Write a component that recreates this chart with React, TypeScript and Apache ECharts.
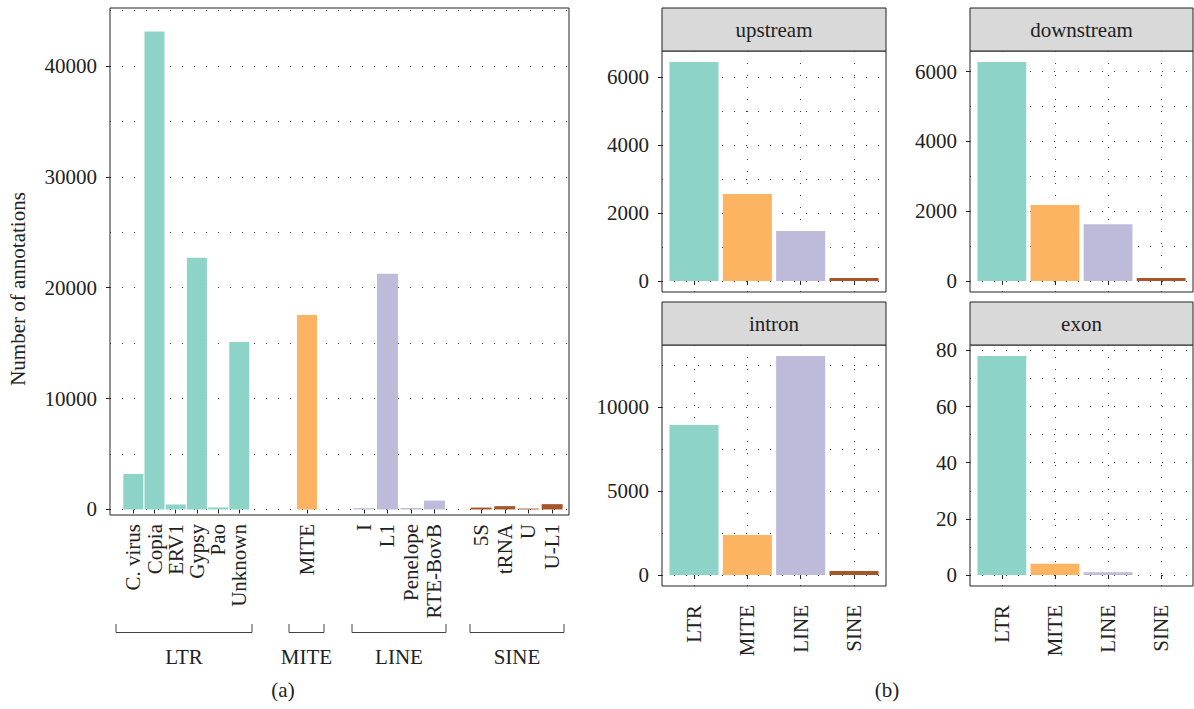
import React, { useEffect, useRef } from "react";
import * as echarts from "echarts";

const FONT = '"Liberation Serif", "DejaVu Serif", serif';
const FONT_SIZE = 21;
const INK = "#222222";
const DOT = "#3a3a3a";

// (a) annotation counts per superfamily, grouped by order
const ltrNames = ["C. virus", "Copia", "ERV1", "Gypsy", "Pao", "Unknown"];
const ltrCounts = [3200, 43100, 450, 22700, 180, 15100];
const miteNames = ["MITE"];
const miteCounts = [17550];
const lineNames = ["I", "L1", "Penelope", "RTE-BovB"];
const lineCounts = [120, 21250, 130, 800];
const sineNames = ["5S", "tRNA", "U", "U-L1"];
const sineCounts = [170, 300, 80, 480];

const groupNames = ["LTR", "MITE", "LINE", "SINE"];
const groupColors = ["#8dd3c7", "#fdb462", "#bebada", "#a65628"];

const countTicks = [0, 10000, 20000, 30000, 40000];
const countGridLines = [0, 5000, 10000, 15000, 20000, 25000, 30000, 35000, 40000, 45000];
const countMin = -500;
const countMax = 45230;

// (b) annotation counts per order, by genomic region
const orders = ["LTR", "MITE", "LINE", "SINE"];
const upstream = [6450, 2560, 1470, 90];
const downstream = [6280, 2180, 1630, 85];
const intron = [8940, 2390, 13050, 240];
const exon = [78, 4, 1, 0];

const facetNames = ["upstream", "downstream", "intron", "exon"];
const facetValues = [upstream, downstream, intron, exon];
const facetTicks = [
  [0, 2000, 4000, 6000],
  [0, 2000, 4000, 6000],
  [0, 5000, 10000],
  [0, 20, 40, 60, 80],
];
const facetGridLines = [
  [0, 1000, 2000, 3000, 4000, 5000, 6000],
  [0, 1000, 2000, 3000, 4000, 5000, 6000],
  [0, 2500, 5000, 7500, 10000, 12500],
  [0, 10, 20, 30, 40, 50, 60, 70, 80],
];

const dotted = { type: [1, 11] as number[], color: DOT, width: 1 };
const labelText = { fontFamily: FONT, fontSize: FONT_SIZE, color: INK };
const plain = (v: number) => String(v);
const textFont = `${FONT_SIZE}px ${FONT}`;

// dotted guide lines, kept underneath the bars
const guides = (data: any[]) => ({
  silent: true,
  z: 1,
  symbol: ["none", "none"],
  label: { show: false },
  emphasis: { disabled: true },
  lineStyle: dotted,
  data,
});

function buildOption() {
  const grid: any[] = [];
  const xAxis: any[] = [];
  const yAxis: any[] = [];
  const series: any[] = [];
  const graphic: any[] = [];

  const addGrid = (g: any) => {
    grid.push(g);
    return grid.length - 1;
  };

  // ---------- panel (a) ----------
  const aTop = 8;
  const aHeight = 507;
  const frameA = addGrid({
    left: 110, top: aTop, width: 459, height: aHeight,
    show: true, borderColor: INK, borderWidth: 1, backgroundColor: "transparent",
  });
  xAxis.push({ type: "value", gridIndex: frameA, show: false, min: 0, max: 1 });
  yAxis.push({
    type: "value", gridIndex: frameA, min: countMin, max: countMax,
    axisLine: { show: false },
    axisTick: { show: true, length: 4, customValues: countTicks, lineStyle: { color: INK } },
    axisLabel: { customValues: countTicks, margin: 13, formatter: plain, ...labelText },
    splitLine: { show: false },
  });
  series.push({
    type: "line", xAxisIndex: xAxis.length - 1, yAxisIndex: yAxis.length - 1,
    data: [], z: 1, silent: true,
    markLine: guides(countGridLines.map((v) => ({ yAxis: v }))),
  });

  const groups = [
    { names: ltrNames, counts: ltrCounts, left: 122.7, slot: 21.2, bar: 20 },
    { names: miteNames, counts: miteCounts, left: 296, slot: 22, bar: 20 },
    { names: lineNames, counts: lineCounts, left: 352.2, slot: 23.5, bar: 21 },
    { names: sineNames, counts: sineCounts, left: 469.2, slot: 23.7, bar: 21 },
  ];
  groups.forEach((g, gi) => {
    const gIdx = addGrid({ left: g.left, top: aTop, width: g.slot * g.names.length, height: aHeight });
    xAxis.push({
      type: "category", gridIndex: gIdx, data: g.names,
      axisLine: { show: false },
      axisTick: { show: true, alignWithLabel: true, length: 4, lineStyle: { color: INK } },
      axisLabel: { rotate: 90, interval: 0, margin: 9, ...labelText },
      splitLine: { show: false },
    });
    yAxis.push({ type: "value", gridIndex: gIdx, min: countMin, max: countMax, show: false });
    series.push({
      type: "bar", xAxisIndex: xAxis.length - 1, yAxisIndex: yAxis.length - 1,
      data: g.counts, barWidth: g.bar, z: 3,
      itemStyle: { color: groupColors[gi] },
    });
  });

  // group brackets under panel (a)
  const brackets = [
    { x1: 116, x2: 252, label: groupNames[0], cx: 184 },
    { x1: 289, x2: 324, label: groupNames[1], cx: 306.5 },
    { x1: 352, x2: 446, label: groupNames[2], cx: 399 },
    { x1: 470, x2: 564, label: groupNames[3], cx: 517 },
  ];
  brackets.forEach((b) => {
    graphic.push({
      type: "polyline", silent: true,
      shape: { points: [[b.x1, 624], [b.x1, 632.5], [b.x2, 632.5], [b.x2, 624]] },
      style: { stroke: "#444", lineWidth: 1, fill: null },
    });
    graphic.push({
      type: "text", x: b.cx, y: 657, silent: true,
      style: { text: b.label, align: "center", verticalAlign: "middle", font: textFont, fill: INK },
    });
  });

  graphic.push({
    type: "text", x: 18, y: 289, rotation: Math.PI / 2, silent: true,
    style: { text: "Number of annotations", align: "center", verticalAlign: "middle", font: textFont, fill: INK },
  });
  graphic.push({
    type: "text", x: 283, y: 690, silent: true,
    style: { text: "(a)", align: "center", verticalAlign: "middle", font: textFont, fill: INK },
  });
  graphic.push({
    type: "text", x: 887, y: 690, silent: true,
    style: { text: "(b)", align: "center", verticalAlign: "middle", font: textFont, fill: INK },
  });

  // ---------- panel (b): 2 x 2 facets ----------
  const facetBoxes = [
    { left: 662, top: 51, width: 224, height: 241, stripTop: 8, bottomRow: false },
    { left: 970, top: 51, width: 223, height: 241, stripTop: 8, bottomRow: false },
    { left: 662, top: 345, width: 224, height: 241, stripTop: 302, bottomRow: true },
    { left: 970, top: 345, width: 223, height: 241, stripTop: 302, bottomRow: true },
  ];

  facetBoxes.forEach((box, fi) => {
    const values = facetValues[fi];
    const vmax = Math.max(...values);
    const yMin = -0.05 * vmax;
    const yMax = 1.05 * vmax;

    // frame, y axis and horizontal guides
    const fIdx = addGrid({
      left: box.left, top: box.top, width: box.width, height: box.height,
      show: true, borderColor: INK, borderWidth: 1, backgroundColor: "transparent",
    });
    xAxis.push({ type: "value", gridIndex: fIdx, show: false, min: 0, max: 1 });
    yAxis.push({
      type: "value", gridIndex: fIdx, min: yMin, max: yMax,
      axisLine: { show: false },
      axisTick: { show: true, length: 4, customValues: facetTicks[fi], lineStyle: { color: INK } },
      axisLabel: { customValues: facetTicks[fi], margin: 13, formatter: plain, ...labelText },
      splitLine: { show: false },
    });
    series.push({
      type: "line", xAxisIndex: xAxis.length - 1, yAxisIndex: yAxis.length - 1,
      data: [], z: 1, silent: true,
      markLine: guides(facetGridLines[fi].map((v) => ({ yAxis: v }))),
    });

    // discrete axis: first and last category sit 0.6 slot inside the frame
    const slot = box.width / 4.2;
    const dIdx = addGrid({ left: box.left + 0.1 * slot, top: box.top, width: slot * 4, height: box.height });
    xAxis.push({
      type: "category", gridIndex: dIdx, data: orders,
      axisLine: { show: false },
      axisTick: { show: true, alignWithLabel: true, length: 4, lineStyle: { color: INK } },
      axisLabel: { show: box.bottomRow, rotate: 90, interval: 0, margin: 19, ...labelText },
      splitLine: { show: false },
    });
    yAxis.push({ type: "value", gridIndex: dIdx, min: yMin, max: yMax, show: false });
    series.push({
      type: "line", xAxisIndex: xAxis.length - 1, yAxisIndex: yAxis.length - 1,
      data: [], z: 1, silent: true,
      markLine: guides(orders.map((o) => ({ xAxis: o }))),
    });
    series.push({
      type: "bar", xAxisIndex: xAxis.length - 1, yAxisIndex: yAxis.length - 1,
      barCategoryGap: "8%", z: 3,
      data: values.map((v, i) => ({ value: v, itemStyle: { color: groupColors[i] } })),
    });

    // facet strip
    graphic.push({
      type: "rect", silent: true,
      shape: { x: box.left, y: box.stripTop, width: box.width, height: box.top - box.stripTop },
      style: { fill: "#d9d9d9", stroke: INK, lineWidth: 1 },
    });
    graphic.push({
      type: "text", silent: true,
      x: box.left + box.width / 2, y: (box.stripTop + box.top) / 2,
      style: { text: facetNames[fi], align: "center", verticalAlign: "middle", font: textFont, fill: INK },
    });
  });

  return {
    animation: false,
    backgroundColor: "#ffffff",
    textStyle: { fontFamily: FONT },
    grid, xAxis, yAxis, series, graphic,
  };
}

export default function App() {
  const ref = useRef<HTMLDivElement>(null);
  useEffect(() => {
    if (!ref.current) return;
    const chart = echarts.init(ref.current, undefined, { renderer: "svg" });
    chart.setOption(buildOption() as any);
    return () => chart.dispose();
  }, []);
  return (
    <div
      ref={ref}
      style={{ position: "absolute", left: 0, top: 0, width: 1194, height: 709 }}
    />
  );
}
